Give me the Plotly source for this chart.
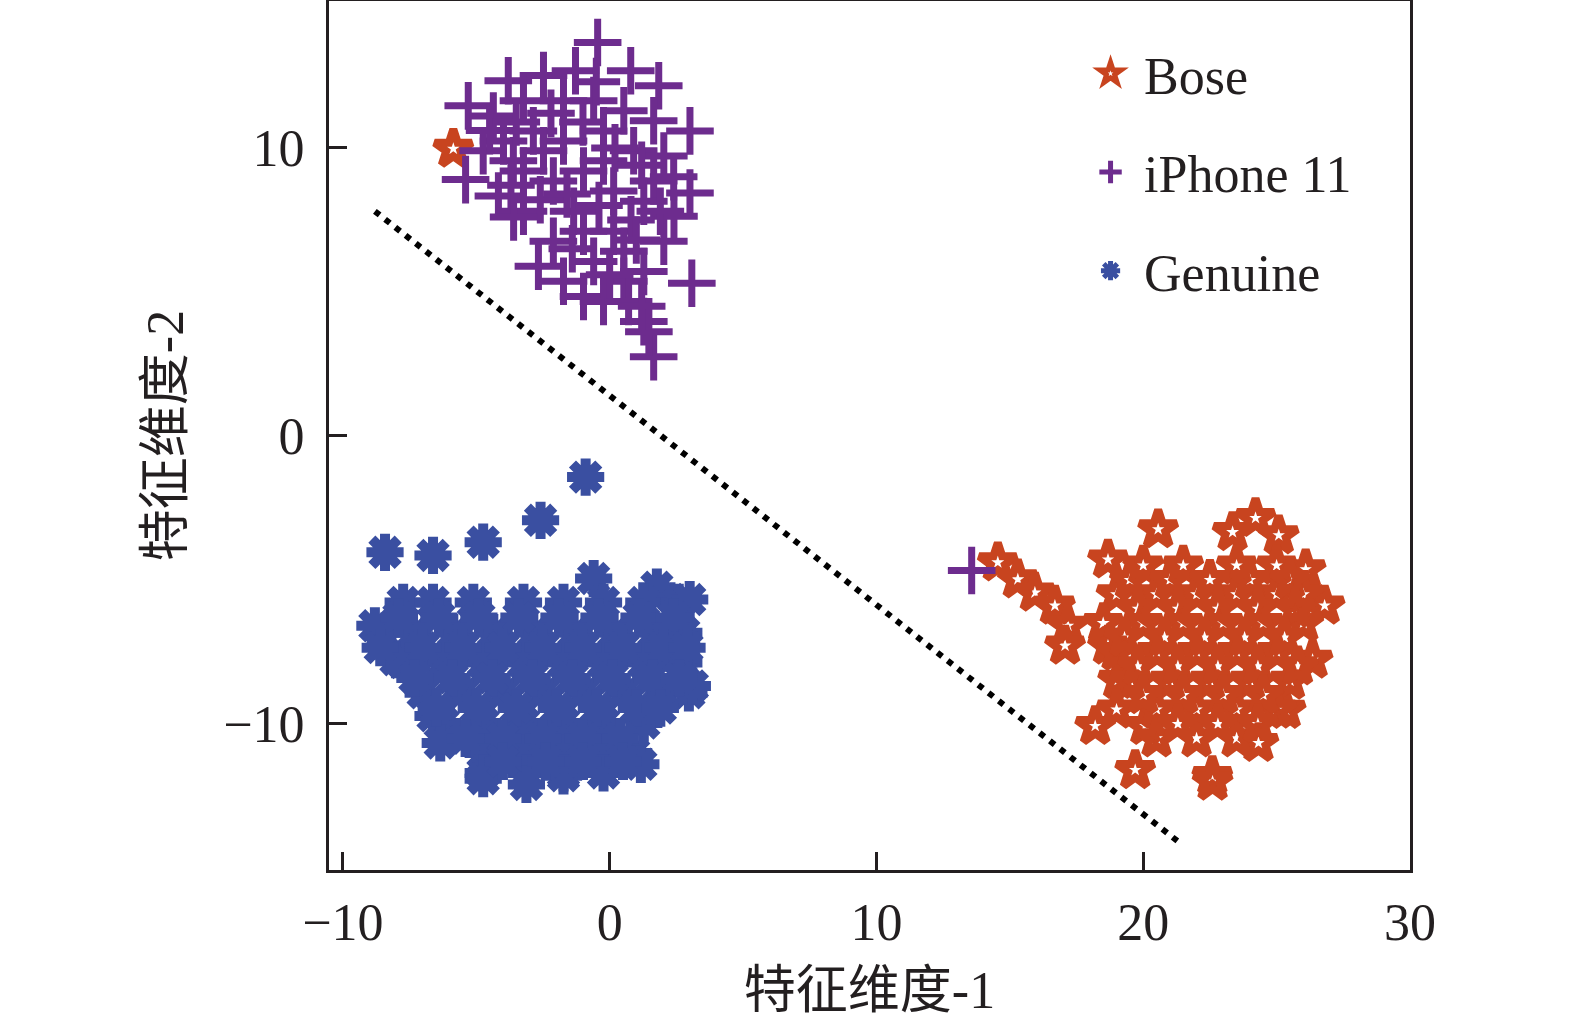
import plotly.graph_objects as go

# Bose (star markers)
bose_x = [-5.86, 14.55, 15.30, 15.94, 16.69, 17.18, 17.07, 18.68, 18.68, 20.56, 24.21, 23.35,
          25.08, 26.09, 26.80, 26.35, 25.34, 24.32, 22.59, 19.70, 18.20, 20.08, 19.06,
          20.0, 21.5, 23.5, 25.0,
          19.0, 20.5, 22.0, 23.5, 25.0, 26.0,
          18.5, 20.0, 21.5, 23.0, 24.5, 26.0,
          19.0, 20.5, 22.0, 23.5, 25.0,
          19.5, 21.0, 22.5, 24.0, 25.5,
          19.0, 20.5, 22.0, 23.5, 25.0,
          20.5, 22.0, 23.5, 22.6,
          19.5, 21.0, 22.5, 24.0, 25.5,
          19.8, 21.3, 22.8, 24.3, 25.7,
          19.3, 20.8, 22.3, 23.8, 25.3,
          19.8, 21.3, 22.8, 24.3, 25.8,
          20.0, 21.5, 23.0, 24.5,
          21.3, 22.8, 24.3]
bose_y = [9.97, -4.39, -4.98, -5.44, -5.89, -6.59, -7.28, -4.29, -7.28, -3.24, -2.85, -3.34,
          -3.45, -4.63, -5.89, -7.77, -9.51, -10.66, -11.81, -11.60, -10.07, -10.07, -8.47,
          -4.5, -4.5, -4.5, -4.5,
          -5.5, -5.5, -5.5, -5.5, -5.5, -5.5,
          -6.5, -6.5, -6.5, -6.5, -6.5, -6.5,
          -7.5, -7.5, -7.5, -7.5, -7.5,
          -8.5, -8.5, -8.5, -8.5, -8.5,
          -9.5, -9.5, -9.5, -9.5, -9.5,
          -10.5, -10.5, -10.5, -12.0,
          -5.0, -5.0, -5.0, -5.0, -5.0,
          -6.0, -6.0, -6.0, -6.0, -6.0,
          -7.0, -7.0, -7.0, -7.0, -7.0,
          -8.0, -8.0, -8.0, -8.0, -8.0,
          -9.0, -9.0, -9.0, -9.0,
          -10.0, -10.0, -10.0]

# iPhone 11 (cross markers)
iphone_x = [-0.45, 0.79, 1.84, 3.01, 3.01, 3.08, 1.65, 1.28, -2.67, -5.30, -5.40, -3.80,
            -2.48, -1.28, -4.17, -3.23, -1.73, -0.98, -0.23, 0.53, 2.03, 0.15, -0.98,
            1.65, 0.90, -0.23, -1.73, -2.86, -3.98, -4.74, -3.23, -2.11, -0.98, 0.15,
            1.28, -1.35, -2.11, -0.60, 0.53, 1.28, -1.73, -0.60, 0.53, 1.65, -3.23,
            -4.36, 2.03, 2.41, -2.48, -3.61, -0.23, 0.71, 1.47, 13.57,
            -4.5, -3.5, -2.2, -1.0, 0.2, 1.2, 2.4, -3.7, -2.6, -1.6, -0.4, 0.8, 1.9,
            -1.4, 0.0, 1.0, -0.5, 1.2, -3.6]
iphone_y = [13.66, 12.68, 12.16, 10.59, 8.43, 5.30, 2.75, 3.97, 5.89, 11.46, 8.90, 12.33,
            12.51, 12.68, 8.33, 7.80, 5.37, 4.84, 4.67, 5.37, 6.76, 7.11, 7.11,
            8.85, 9.90, 10.59, 10.24, 10.59, 10.24, 9.90, 9.20, 8.85, 9.20, 8.50,
            8.15, 7.80, 6.76, 6.06, 6.41, 5.71, 11.64, 11.64, 11.29, 10.94, 11.64,
            11.11, 9.72, 7.63, 9.90, 9.55, 9.55, 4.67, 3.62, -4.67,
            10.6, 10.9, 11.2, 10.9, 10.0, 9.4, 9.0, 8.7, 8.2, 8.4, 8.0, 7.5, 7.8,
            6.5, 5.6, 6.8, 12.3, 4.5, 7.6]

# Genuine (asterisk markers)
genuine_x = [-0.90, -2.59, -8.42, -6.62, -4.74, -0.60, 1.77,
             -7.74, -6.62, -5.11, -3.23, -1.73, -0.23, 1.28, 2.59,
             -8.50, -7.37, -5.86, -4.36, -2.86, -1.35, 0.15, 1.65, 2.78,
             -7.74, -6.24, -4.74, -3.23, -1.73, -0.23, 1.28, 2.78,
             -6.99, -5.49, -3.98, -2.48, -0.98, 0.53, 2.03, 2.97,
             -6.24, -4.74, -3.23, -1.73, -0.23, 1.28,
             -4.74, -3.23, -1.73, -0.23, 0.90,
             -4.74, -3.12, -1.73, -0.23,
             -8.80, -8.01, -6.62, -6.35, -4.74, -3.12, -1.73, 1.17, 3.00, 3.10,
             -7.9, -6.4, -4.9, -3.4, -1.9, -0.4, 1.1, 2.4,
             -8.6, -7.0, -5.5, -4.0, -2.5, -1.0, 0.5, 2.0, 2.9,
             -7.3, -5.9, -4.4, -2.9, -1.4, 0.1, 1.6, 2.6,
             -6.5, -5.0, -3.5, -2.0, -0.5, 1.0, 1.9,
             -5.4, -4.0, -2.5, -1.0, 0.4,
             -4.0, -2.4, -1.0, 0.5]
genuine_y = [-1.43, -2.93, -4.04, -4.15, -3.69, -4.95, -5.25,
             -5.78, -5.78, -5.78, -5.78, -5.78, -5.78, -5.78, -5.78,
             -6.83, -6.83, -6.83, -6.83, -6.83, -6.83, -6.83, -6.83, -6.83,
             -7.87, -7.87, -7.87, -7.87, -7.87, -7.87, -7.87, -7.87,
             -8.92, -8.92, -8.92, -8.92, -8.92, -8.92, -8.92, -8.92,
             -9.97, -9.97, -9.97, -9.97, -9.97, -9.97,
             -11.01, -11.01, -11.01, -11.01, -11.01,
             -11.70, -11.70, -11.70, -11.70,
             -6.59, -7.77, -9.72, -10.66, -11.90, -12.10, -11.80, -11.40, -5.68, -8.68,
             -6.3, -6.3, -6.3, -6.3, -6.3, -6.3, -6.3, -6.3,
             -7.35, -7.35, -7.35, -7.35, -7.35, -7.35, -7.35, -7.35, -7.35,
             -8.4, -8.4, -8.4, -8.4, -8.4, -8.4, -8.4, -8.4,
             -9.45, -9.45, -9.45, -9.45, -9.45, -9.45, -9.45,
             -10.5, -10.5, -10.5, -10.5, -10.5,
             -11.3, -11.3, -11.3, -11.3]

# dotted separating line
line_x = [-8.8, 21.4]
line_y = [7.8, -14.15]

x_ticks = [-10, 0, 10, 20, 30]
y_ticks = [-10, 0, 10]

serif = "Liberation Serif, Noto Sans CJK SC, serif"
axis_color = "#231f20"

fig = go.Figure()

fig.add_trace(go.Scatter(
    x=bose_x, y=bose_y, mode="markers", name="Bose", legendgroup="a",
    marker=dict(symbol="star-open", size=28, color="#c8441f", line=dict(width=8, color="#c8441f"))
))
fig.add_trace(go.Scatter(
    x=iphone_x, y=iphone_y, mode="markers", name="iPhone 11", legendgroup="b",
    marker=dict(symbol="cross-thin-open", size=34, color="#6d2c8e", line=dict(width=7, color="#6d2c8e"))
))
fig.add_trace(go.Scatter(
    x=genuine_x, y=genuine_y, mode="markers", name="Genuine", legendgroup="c",
    marker=dict(symbol="asterisk-open", size=31, color="#3a4fa1", line=dict(width=10, color="#3a4fa1"))
))
fig.add_trace(go.Scatter(
    x=line_x, y=line_y, mode="lines", showlegend=False,
    line=dict(color="black", width=6, dash="6px,7px")
))

fig.update_layout(
    width=1575, height=1023,
    margin=dict(l=329, r=165, t=1, b=153),
    plot_bgcolor="white", paper_bgcolor="white",
    font=dict(family=serif, size=52, color="#231f20"),
    legend=dict(x=0.692, y=0.963, xanchor="left", yanchor="top",
                bgcolor="rgba(0,0,0,0)", tracegroupgap=28, itemwidth=57,
                font=dict(size=52, family=serif)),
)
fig.update_xaxes(
    range=[-10.52, 30], tickvals=x_ticks, ticks="inside", ticklen=18, tickwidth=3,
    tickcolor=axis_color, showline=True, linewidth=3, linecolor=axis_color, mirror=True,
    showgrid=False, zeroline=False, ticklabelstandoff=5, automargin=False,
    title=dict(text="特征维度-1", standoff=22, font=dict(size=52, family=serif))
)
fig.update_yaxes(
    range=[-15.07, 15.1], tickvals=y_ticks, ticks="inside", ticklen=18, tickwidth=3,
    tickcolor=axis_color, showline=True, linewidth=3, linecolor=axis_color, mirror=True,
    showgrid=False, zeroline=False, ticklabelstandoff=11, automargin=False,
    title=dict(text="特征维度-2", standoff=24, font=dict(size=52, family=serif))
)

fig.write_html(
    "out.html",
    config={"displayModeBar": False},
    post_script="document.body.style.margin='0';"
                "document.body.style.overflow='hidden';"
                "document.documentElement.style.overflow='hidden';",
)
